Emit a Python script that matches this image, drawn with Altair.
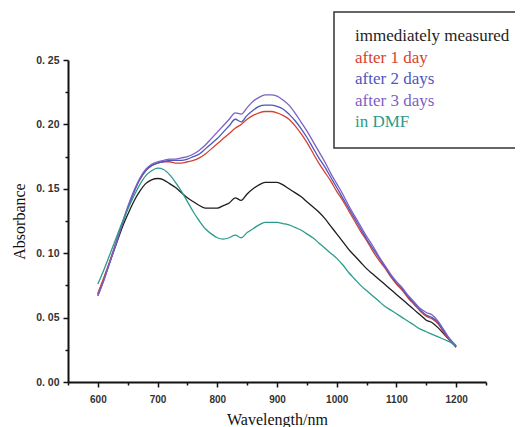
import altair as alt
import pandas as pd

wavelength = list(range(600, 1201, 10))

immediately_measured = [
    0.068, 0.080, 0.093, 0.106, 0.119, 0.130, 0.140, 0.148, 0.154, 0.157,
    0.158, 0.157, 0.154, 0.151, 0.147, 0.143, 0.140, 0.137, 0.135, 0.135,
    0.135, 0.137, 0.139, 0.143, 0.141, 0.146, 0.150, 0.153, 0.155, 0.155,
    0.155, 0.153, 0.150, 0.147, 0.144, 0.140, 0.136, 0.132, 0.127, 0.121,
    0.115, 0.109, 0.103, 0.098, 0.093, 0.088, 0.084, 0.080, 0.076, 0.072,
    0.068, 0.064, 0.060, 0.056, 0.052, 0.048, 0.046, 0.042, 0.037, 0.032,
    0.027]

after_1_day = [
    0.069, 0.081, 0.094, 0.108, 0.122, 0.135, 0.147, 0.157, 0.164, 0.168,
    0.170, 0.171, 0.171, 0.170, 0.170, 0.171, 0.172, 0.174, 0.177, 0.181,
    0.185, 0.189, 0.193, 0.197, 0.200, 0.204, 0.207, 0.209, 0.210, 0.210,
    0.209, 0.207, 0.204, 0.199, 0.193, 0.186, 0.178, 0.170, 0.163, 0.156,
    0.148, 0.141, 0.133, 0.125, 0.117, 0.110, 0.102, 0.095, 0.089, 0.082,
    0.076, 0.071, 0.065, 0.060, 0.055, 0.051, 0.049, 0.045, 0.038, 0.032,
    0.028]

after_2_days = [
    0.067, 0.079, 0.093, 0.107, 0.121, 0.135, 0.147, 0.157, 0.164, 0.168,
    0.170, 0.171, 0.172, 0.172, 0.172, 0.173, 0.175, 0.177, 0.181, 0.185,
    0.189, 0.194, 0.199, 0.204, 0.202, 0.207, 0.211, 0.214, 0.215, 0.215,
    0.214, 0.212, 0.208, 0.203, 0.197, 0.190, 0.182, 0.174, 0.167, 0.159,
    0.151, 0.143, 0.135, 0.127, 0.119, 0.111, 0.104, 0.097, 0.090, 0.083,
    0.077, 0.072, 0.066, 0.061, 0.056, 0.052, 0.050, 0.046, 0.039, 0.033,
    0.028]

after_3_days = [
    0.067, 0.079, 0.093, 0.107, 0.122, 0.136, 0.148, 0.158, 0.165, 0.169,
    0.171, 0.172, 0.173, 0.173, 0.174, 0.175, 0.177, 0.180, 0.184, 0.189,
    0.194, 0.199, 0.204, 0.209, 0.208, 0.213, 0.218, 0.221, 0.223, 0.223,
    0.222, 0.219, 0.215, 0.209, 0.202, 0.195, 0.187, 0.179, 0.171, 0.162,
    0.154, 0.146, 0.137, 0.129, 0.121, 0.113, 0.106, 0.098, 0.091, 0.084,
    0.078, 0.073, 0.067, 0.062, 0.057, 0.054, 0.052, 0.047, 0.040, 0.033,
    0.028]

in_dmf = [
    0.076, 0.087, 0.099, 0.111, 0.123, 0.134, 0.144, 0.153, 0.160, 0.164,
    0.166, 0.165, 0.161, 0.155, 0.148, 0.140, 0.132, 0.125, 0.119, 0.115,
    0.112, 0.111, 0.112, 0.114, 0.112, 0.116, 0.119, 0.122, 0.124, 0.124,
    0.124, 0.123, 0.122, 0.120, 0.118, 0.115, 0.112, 0.108, 0.104, 0.100,
    0.096, 0.091, 0.085, 0.080, 0.075, 0.071, 0.067, 0.063, 0.059, 0.056,
    0.053, 0.050, 0.047, 0.044, 0.041, 0.039, 0.037, 0.035, 0.033, 0.031,
    0.028]

series_names = ["immediately measured", "after 1 day", "after 2 days",
                "after 3 days", "in DMF"]
series_colors = ["#1e1e1e", "#d8412f", "#4b57bd", "#7d5fc6", "#2b9c8c"]
draw_order = ["in DMF", "immediately measured", "after 1 day",
              "after 2 days", "after 3 days"]

x_ticks = list(range(550, 1251, 50))
y_ticks = [round(i * 0.025, 3) for i in range(11)]

all_values = [immediately_measured, after_1_day, after_2_days, after_3_days, in_dmf]
rows = []
for name, vals in zip(series_names, all_values):
    for w, v in zip(wavelength, vals):
        rows.append({"wavelength": w, "absorbance": v, "series": name,
                     "order": draw_order.index(name)})
df = pd.DataFrame(rows)

SERIF = "Liberation Serif"
SANS = "Liberation Sans"

x_axis = alt.Axis(
    values=x_ticks,
    labelExpr="(datum.value % 100 == 0 && datum.value >= 600 && datum.value <= 1200) ? format(datum.value, 'd') : ''",
    tickSize={"condition": {"test": "datum.value % 100 == 0", "value": 5}, "value": 3},
    tickWidth=1.5, tickColor="#111", domainColor="#111", domainWidth=2,
    labelFont=SANS, labelFontWeight="bold", labelFontSize=10,
    labelColor="#333", labelPadding=7, grid=False,
    title="Wavelength/nm", titleFont=SERIF, titleFontSize=16,
    titleFontWeight="normal", titleColor="#111", titlePadding=7,
)
y_axis = alt.Axis(
    values=y_ticks,
    labelExpr="abs(datum.value * 20 - round(datum.value * 20)) < 0.01 ? replace(format(datum.value, '.2f'), '.', '. ') : ''",
    tickSize={"condition": {"test": "abs(datum.value * 20 - round(datum.value * 20)) < 0.01", "value": 5}, "value": 3},
    tickWidth=1.5, tickColor="#111", domainColor="#111", domainWidth=2,
    labelFont=SANS, labelFontWeight="bold", labelFontSize=10.5,
    labelColor="#333", labelPadding=4, grid=False,
    title="Absorbance", titleFont=SERIF, titleFontSize=16,
    titleFontWeight="normal", titleColor="#111", titlePadding=8,
)

lines = alt.Chart(df).mark_line(strokeWidth=1.3, interpolate="monotone").encode(
    x=alt.X("wavelength:Q", scale=alt.Scale(domain=[550, 1250], nice=False), axis=x_axis),
    y=alt.Y("absorbance:Q", scale=alt.Scale(domain=[0, 0.25], nice=False), axis=y_axis),
    color=alt.Color("series:N", scale=alt.Scale(domain=series_names, range=series_colors), legend=None),
    order=alt.Order("order:Q"),
    detail="series:N",
)

box = alt.Chart(pd.DataFrame({"k": [0]})).mark_rect(
    fill="white", stroke="#333", strokeWidth=1.5
).encode(x=alt.value(266), x2=alt.value(520), y=alt.value(-48), y2=alt.value(88))

layers = [lines, box]
for i, (name, col) in enumerate(zip(series_names, series_colors)):
    layers.append(
        alt.Chart(pd.DataFrame({"label": [name]})).mark_text(
            align="left", baseline="alphabetic", font=SERIF,
            fontSize=17, color=col
        ).encode(text="label:N", x=alt.value(287), y=alt.value(-19 + i * 21.6))
    )

chart = alt.layer(*layers).properties(
    width=418, height=322,
    autosize=alt.AutoSizeParams(type="none"),
    padding={"left": 60, "top": 52, "right": 29, "bottom": 45},
).configure_view(stroke=None)

chart.save("out.html", embed_options={"renderer": "svg", "actions": False})
